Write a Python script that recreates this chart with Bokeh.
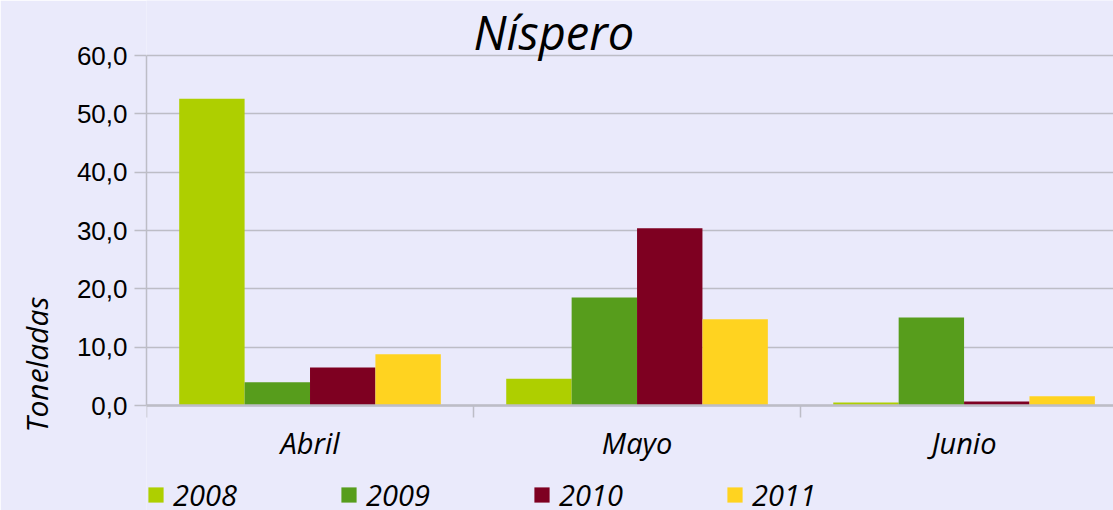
from bokeh.plotting import figure
from bokeh.models import (ColumnDataSource, Range1d, FixedTicker, Legend, LegendItem, Label, Title)
from bokeh.transform import dodge
from bokeh.embed import file_html
from bokeh.resources import INLINE

# ---- data ----
months = ["Abril", "Mayo", "Junio"]
month_pos = [0.5, 1.5, 2.5]
years = ["2008", "2009", "2010", "2011"]
v2008 = [52.6, 4.6, 0.5]
v2009 = [4.0, 18.5, 15.1]
v2010 = [6.5, 30.4, 0.7]
v2011 = [8.8, 14.8, 1.6]
y_ticks = [0, 10, 20, 30, 40, 50, 60]
y_tick_labels = ["0,0", "10,0", "20,0", "30,0", "40,0", "50,0", "60,0"]
title_text = "Níspero"
y_label_text = "Toneladas"

colors = ["#aecf00", "#579d1c", "#7e0021", "#ffd320"]
offsets = [-0.3, -0.1, 0.1, 0.3]
BG = "#EAEAFB"
GRID = "#BDBDC6"
FONT = "Open Sans"

source = ColumnDataSource(dict(x=month_pos, y2008=v2008, y2009=v2009, y2010=v2010, y2011=v2011))

# frame covers x 145..1113 and the full height; value 0 sits at y=405, 60 at y=55
p = figure(frame_width=968, frame_height=510, output_backend="svg", toolbar_location=None,
           x_range=Range1d(0, 2.96), y_range=Range1d(-18.0, 69.43),
           min_border_left=145, min_border_top=0, min_border_bottom=0, min_border_right=0)
p.background_fill_color = BG
p.border_fill_color = BG
p.outline_line_color = None

renderers = []
for yr, col, off in zip(years, colors, offsets):
    r = p.vbar(x=dodge("x", off), top="y" + yr, width=0.2, bottom=0, source=source,
               fill_color=col, line_color=None)
    renderers.append(r)

# y axis
p.yaxis.ticker = FixedTicker(ticks=y_ticks)
p.yaxis.bounds = (0, 60)
p.yaxis.major_label_overrides = {t: l for t, l in zip(y_ticks, y_tick_labels)}
p.yaxis.major_label_text_font = "Liberation Sans"
p.yaxis.major_label_text_font_size = "26px"
p.yaxis.major_label_text_color = "#000000"
p.yaxis.axis_line_color = GRID
p.yaxis.axis_line_width = 1.5
p.yaxis.major_tick_line_color = GRID
p.yaxis.major_tick_line_width = 1.5
p.yaxis.major_tick_in = 0
p.yaxis.major_tick_out = 12
p.yaxis.minor_tick_line_color = None
p.yaxis.major_label_standoff = 7

# x axis at value 0: labels at group centres, ticks at group boundaries (minor ticks)
p.xaxis.fixed_location = 0
p.xaxis.ticker = FixedTicker(ticks=month_pos, minor_ticks=[0, 1, 2, 3])
p.xaxis.major_label_overrides = {m: n for m, n in zip(month_pos, months)}
p.xaxis.major_label_text_font = FONT
p.xaxis.major_label_text_font_style = "italic"
p.xaxis.major_label_text_font_size = "29px"
p.xaxis.major_label_text_color = "#000000"
p.xaxis.axis_line_color = GRID
p.xaxis.axis_line_width = 2.5
p.xaxis.major_tick_line_color = None
p.xaxis.major_tick_in = 0
p.xaxis.major_tick_out = 0
p.xaxis.minor_tick_line_color = GRID
p.xaxis.minor_tick_line_width = 1.5
p.xaxis.minor_tick_in = 0
p.xaxis.minor_tick_out = 12
p.xaxis.major_label_standoff = 5

p.xgrid.grid_line_color = None
p.ygrid.ticker = FixedTicker(ticks=y_ticks)
p.ygrid.grid_line_color = GRID
p.ygrid.grid_line_width = 1.5

# chart title (inside the frame area, above the 60 line)
p.add_layout(Label(x=327, y=479, x_units="screen", y_units="screen", text=title_text,
                   text_font=FONT, text_font_style="italic", text_font_size="47px",
                   text_align="left", text_baseline="alphabetic", text_color="#000000"))

# y axis title on the left side
ytitle = Title(text=y_label_text, align="left", offset=78, vertical_align="top", standoff=30,
               text_font=FONT, text_font_style="italic", text_font_size="30px",
               text_color="#000000")
p.add_layout(ytitle, "left")

legend = Legend(items=[LegendItem(label=yr, renderers=[r]) for yr, r in zip(years, renderers)],
                orientation="horizontal", location=(0, -4),
                glyph_width=19, glyph_height=19, label_standoff=8, label_width=166,
                spacing=0, padding=0, margin=0,
                label_text_font=FONT, label_text_font_style="italic",
                label_text_font_size="29px", label_text_color="#000000",
                border_line_color=None, background_fill_alpha=0)
p.add_layout(legend)

open("out.html", "w").write(file_html(p, INLINE))
